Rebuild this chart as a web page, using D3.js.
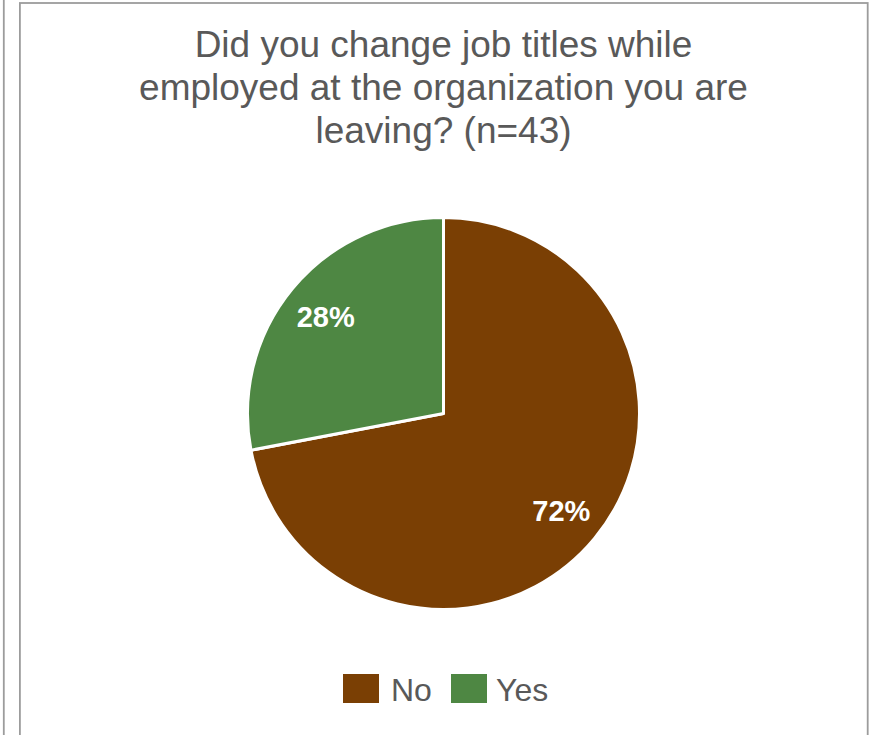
<!DOCTYPE html>
<html>
<head>
<meta charset="utf-8">
<script src="https://cdn.jsdelivr.net/npm/d3@7"></script>
<style>
  html, body { margin: 0; padding: 0; background: #fff; }
  svg { display: block; }
</style>
</head>
<body>
<svg id="chart" width="876" height="735"></svg>
<script>
// Survey answers (percent of respondents)
const categories = ["No", "Yes"];
const values = [72, 28];
const colors = ["#7a3f04", "#4e8743"];
const titleLines = [
  "Did you change job titles while",
  "employed at the organization you are",
  "leaving? (n=43)"
];

const svg = d3.select("#chart");
const W = 876, H = 735;

// Frames: edge of neighbouring panel and this chart's border
svg.append("line")
  .attr("x1", 3.8).attr("x2", 3.8).attr("y1", 0).attr("y2", H)
  .attr("stroke", "#9c9c9c").attr("stroke-width", 1.8);
svg.append("rect")
  .attr("x", 19.9).attr("y", 3).attr("width", 847.8).attr("height", H + 10)
  .attr("fill", "#fff").attr("stroke", "#9c9c9c").attr("stroke-width", 1.8);

// Title
const title = svg.append("text")
  .attr("text-anchor", "middle")
  .attr("fill", "#595959")
  .style("font-family", "'Liberation Sans', Arial, sans-serif")
  .style("font-size", "37px");
titleLines.forEach((t, i) => {
  title.append("tspan").attr("x", 443.5).attr("y", 57 + i * 43).text(t);
});

// Pie
const cx = 443.5, cy = 413.5, r = 196;
const pie = d3.pie().sort(null).value(d => d)
  .startAngle(0).endAngle(2 * Math.PI);
const arcs = pie(values);
const arc = d3.arc().innerRadius(0).outerRadius(r);
const labelArc = d3.arc().innerRadius(r * 0.78).outerRadius(r * 0.78);

const g = svg.append("g").attr("transform", `translate(${cx},${cy})`);
g.selectAll("path.slice")
  .data(arcs)
  .join("path")
  .attr("class", "slice")
  .attr("d", arc)
  .attr("fill", (d, i) => colors[i])
  .attr("stroke", "#fff")
  .attr("stroke-width", 3)
  .attr("stroke-linejoin", "round");

g.selectAll("text.val")
  .data(arcs)
  .join("text")
  .attr("class", "val")
  .attr("transform", d => {
    const [x, y] = labelArc.centroid(d);
    return `translate(${x},${y})`;
  })
  .attr("text-anchor", "middle")
  .attr("dy", "0.36em")
  .attr("fill", "#fff")
  .style("font-family", "'Liberation Sans', Arial, sans-serif")
  .style("font-weight", "bold")
  .style("font-size", "29px")
  .text(d => d.data + "%");

// Legend
const legendItems = [
  { x: 343, tx: 391 },
  { x: 451, tx: 496 }
];
const legend = svg.append("g");
categories.forEach((c, i) => {
  legend.append("rect")
    .attr("x", legendItems[i].x).attr("y", 674)
    .attr("width", 36).attr("height", 29)
    .attr("fill", colors[i]);
  legend.append("text")
    .attr("x", legendItems[i].tx).attr("y", 701)
    .attr("fill", "#595959")
    .style("font-family", "'Liberation Sans', Arial, sans-serif")
    .style("font-size", "32px")
    .text(c);
});
</script>
</body>
</html>
